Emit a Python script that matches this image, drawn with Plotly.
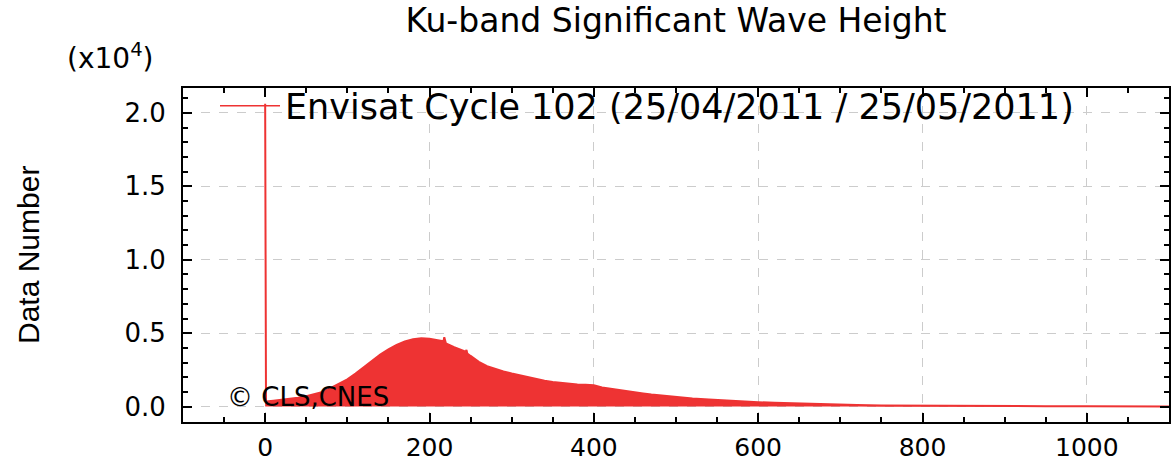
import plotly.graph_objects as go

# Significant wave height bins (cm) and data number (x10^4)
swh_cm = [0, 1, 10, 20, 30, 40, 50, 60, 70, 80, 90, 100, 110, 120, 130, 140, 150,
          160, 170, 180, 190, 200, 210, 217, 218, 219, 220, 230, 240, 244, 245, 246,
          250, 260, 270, 280, 290, 300, 310, 320, 330, 340, 350, 360, 370, 380, 390,
          400, 410, 420, 430, 440, 450, 460, 470, 480, 490, 500, 520, 540, 560, 580,
          600, 620, 640, 660, 680, 700, 720, 750, 800, 850, 900, 950, 1000, 1050, 1100]
count_1e4 = [2.063, 0.035, 0.04, 0.045, 0.052, 0.06, 0.07, 0.083, 0.10, 0.128, 0.155,
             0.185, 0.225, 0.27, 0.315, 0.355, 0.39, 0.42, 0.443, 0.458, 0.465, 0.462,
             0.452, 0.445, 0.472, 0.44, 0.43, 0.405, 0.385, 0.374, 0.386, 0.362, 0.345,
             0.305, 0.275, 0.255, 0.24, 0.225, 0.212, 0.198, 0.186, 0.176, 0.168, 0.161,
             0.155, 0.151, 0.148, 0.145, 0.13, 0.121, 0.113, 0.105, 0.097, 0.09, 0.083,
             0.077, 0.072, 0.066, 0.055, 0.048, 0.041, 0.036, 0.030, 0.026, 0.022, 0.019,
             0.016, 0.013, 0.011, 0.008, 0.0055, 0.004, 0.003, 0.0025, 0.002, 0.0015,
             0.0012]

series_name = "Envisat Cycle 102 (25/04/2011 / 25/05/2011)"
red = "#EE3333"
font = "DejaVu Sans"

fig = go.Figure()
fig.add_trace(go.Scatter(
    x=swh_cm, y=count_1e4, mode="lines",
    line=dict(color=red, width=2),
    fill="tozeroy", fillcolor=red, showlegend=False, hoverinfo="x+y"))
fig.add_trace(go.Scatter(
    x=[None], y=[None], mode="lines", line=dict(color=red, width=1.5),
    name=series_name, showlegend=True))

axis_common = dict(
    showline=True, linewidth=2, linecolor="black", mirror="allticks",
    ticks="inside", ticklen=9, tickwidth=2, tickcolor="black",
    showgrid=True, gridcolor="#cccccc", griddash="dash", gridwidth=1,
    zeroline=False, tickfont=dict(family=font, size=25, color="black"),
)

item_w = 60
fig.update_layout(
    width=1174, height=463,
    margin=dict(l=183, r=5, t=88, b=41, autoexpand=False),
    paper_bgcolor="white", plot_bgcolor="white",
    title=dict(text="Ku-band Significant Wave Height", x=0.5, xref="paper",
               xanchor="center", y=1 - 20 / 463, yref="container", yanchor="middle",
               font=dict(family=font, size=33, color="black")),
    xaxis=dict(range=[-100, 1100], tick0=0, dtick=200, ticklabelstandoff=2,
               minor=dict(dtick=50, tick0=0, ticks="inside", ticklen=5, tickwidth=2,
                          tickcolor="black", showgrid=False),
               **axis_common),
    yaxis=dict(range=[-0.105, 2.17], tick0=0, dtick=0.5, tickformat=".1f",
               ticklabelstandoff=10, tickfont=dict(family=font, size=26, color="black"),
               minor=dict(dtick=0.1, tick0=0, ticks="inside", ticklen=5, tickwidth=2,
                          tickcolor="black", showgrid=False),
               **{k: v for k, v in axis_common.items() if k != "tickfont"}),
    legend=dict(x=(285 - 10 - item_w - 183) / 986, xanchor="left",
                y=(421.7 - 106) / 333.7, yanchor="middle",
                bgcolor="rgba(0,0,0,0)", borderwidth=0,
                font=dict(family=font, size=35, color="black"), itemwidth=item_w),
    annotations=[
        dict(text="(x10<sup>4</sup>)", xref="paper", yref="paper",
             x=(110 - 183) / 986, y=(421.7 - 57) / 333.7, xanchor="center",
             yanchor="middle", showarrow=False,
             font=dict(family=font, size=28, color="black")),
        dict(text="Data Number", xref="paper", yref="paper",
             x=(28 - 183) / 986, y=0.5, xanchor="center", yanchor="middle",
             textangle=-90, showarrow=False,
             font=dict(family="Liberation Sans", size=30, color="black")),
        dict(text="© CLS,CNES", xref="paper", yref="paper",
             x=(225 - 183) / 986, y=(421.7 - 397) / 333.7, xanchor="left",
             yanchor="middle", showarrow=False,
             font=dict(family=font, size=26, color="black")),
    ],
)

fig.write_html("out.html", config={"displayModeBar": False},
               post_script="document.body.style.margin='0';document.body.style.overflow='hidden';")
